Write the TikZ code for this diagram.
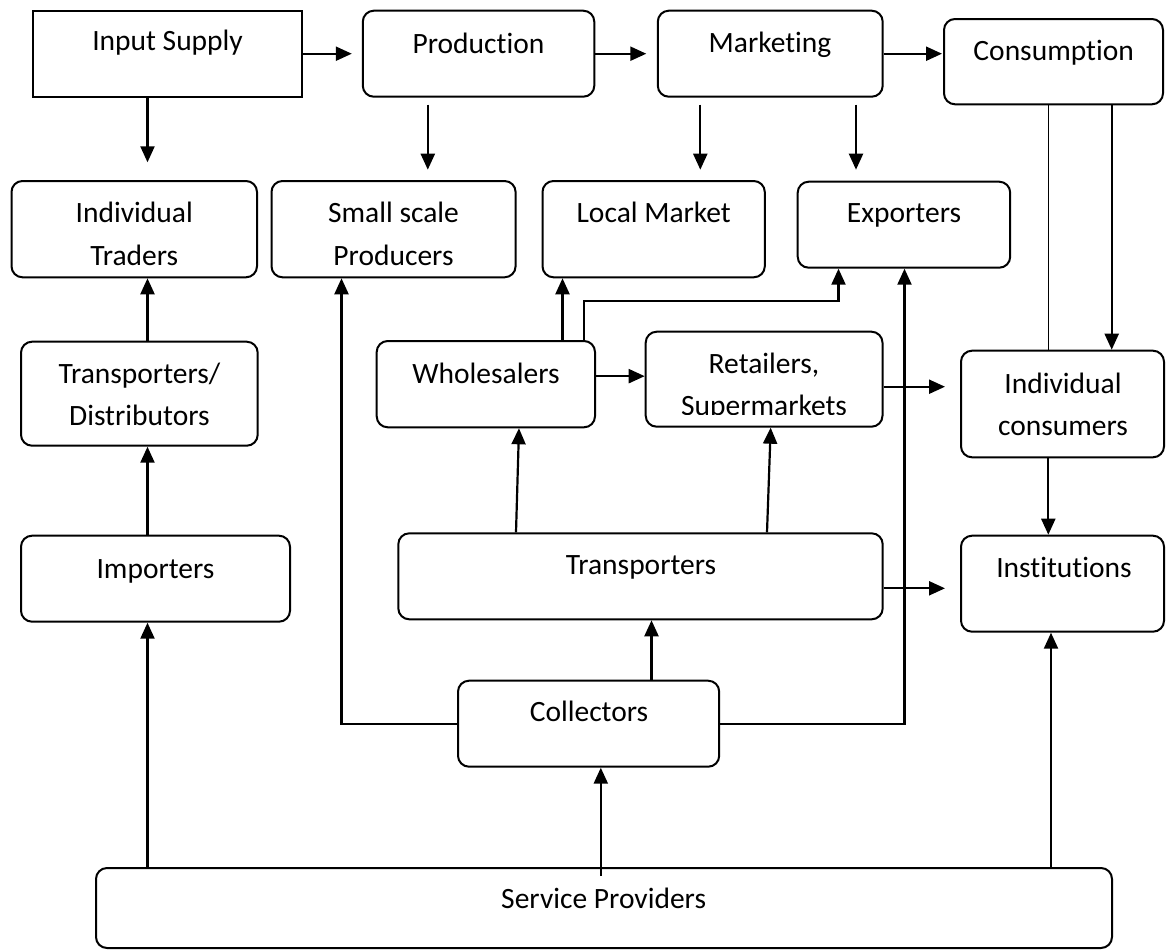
\documentclass[tikz,border=0pt]{standalone}
\usepackage{fontspec}
\setmainfont{Carlito}[Ligatures=NoCommon]
\usetikzlibrary{arrows.meta,fit}
\begin{document}
\begin{tikzpicture}[x=1pt,y=-1pt,
  box/.style={draw, line width=2pt, rounded corners=11pt, inner sep=0pt},
  sqbox/.style={draw, line width=2pt, sharp corners, inner sep=0pt},
  lbl/.style={anchor=base, inner sep=0pt, font=\fontsize{29.5}{35}\selectfont},
  arr/.style={line width=2.2pt, -{Triangle[length=16pt,width=14pt]}},
  ln/.style={line width=1.6pt}]
\useasboundingbox (0,0) rectangle (1166,951);

% boxes
\node[sqbox, fit={(32.9,10.7) (302.3,96.7)}] (inp) {};
\node[box, fit={(362.8,10.7) (594.3,96.7)}] (prod) {};
\node[box, fit={(657.8,10.7) (882.7,96.7)}] (mkt) {};
\node[box, fit={(944,19) (1163,104.3)}] (cons) {};
\node[box, fit={(11.5,181) (257,277.3)}] (trad) {};
\node[box, fit={(271.5,181) (515.6,277.3)}] (small) {};
\node[box, fit={(542.5,181) (764.8,277.3)}] (local) {};
\node[box, fit={(797.7,181.7) (1010.2,267.7)}] (exp) {};
\node[box, fit={(21,341.7) (257.7,445.7)}] (td) {};
\node[box, fit={(376.7,341) (595,427.3)}] (whole) {};
\node[box, fit={(645.7,331.7) (882.5,426.7)}] (ret) {};
\node[box, fit={(961,350.7) (1164,457.3)}] (ic) {};
\node[box, fit={(21,535.7) (290,621.7)}] (imp) {};
\node[box, fit={(398.3,533.3) (882.7,619.3)}] (trans) {};
\node[box, fit={(961,535.7) (1164,631.7)}] (inst) {};
\node[box, fit={(458,680.7) (719.2,766.7)}] (coll) {};
\node[box, fit={(96,868) (1112,948)}] (sp) {};

% labels
\node[lbl] (t-inp) at (167.6,50.5) {Input Supply};
\node[lbl] (t-prod) at (478.5,53) {Production};
\node[lbl] (t-mkt) at (770,52.3) {Marketing};
\node[lbl] (t-cons) at (1053.7,60) {Consumption};
\node[lbl] (t-trad1) at (134.3,222.7) {Individual};
\node[lbl] (t-trad2) at (134.3,265) {Traders};
\node[lbl] (t-small1) at (393.5,222.7) {Small scale};
\node[lbl] (t-small2) at (393.5,265) {Producers};
\node[lbl] (t-local) at (653.7,222.7) {Local Market};
\node[lbl] (t-exp) at (904,222.5) {Exporters};
\node[lbl] (t-td1) at (139.4,383.3) {Transporters/};
\node[lbl] (t-td2) at (139.4,425) {Distributors};
\node[lbl] (t-whole) at (486,383.3) {Wholesalers};
\begin{scope}
\clip (640,330) rectangle (890,414);
\node[lbl] (t-ret1) at (764,373.3) {Retailers,};
\node[lbl] (t-ret2) at (764,415.3) {Supermarkets};
\end{scope}
\node[lbl] (t-ic1) at (1063,393.3) {Individual};
\node[lbl] (t-ic2) at (1063,435) {consumers};
\node[lbl] (t-imp) at (155.5,578) {Importers};
\node[lbl] (t-trans) at (641,574.3) {Transporters};
\node[lbl] (t-inst) at (1064,577.3) {Institutions};
\node[lbl] (t-coll) at (589,721.7) {Collectors};
\node[lbl] (t-sp) at (603.6,908.3) {Service Providers};

% columns for connectors
\coordinate (x147) at (147.5,0);
\coordinate (x427) at (427.8,0);
\coordinate (x700) at (700.3,0);
\coordinate (x856) at (856,0);
\coordinate (x341) at (341.5,0);
\coordinate (x562) at (562.5,0);
\coordinate (x584) at (583.8,0);
\coordinate (bend) at (838.5,300.7);
\coordinate (x904) at (904.5,0);
\coordinate (x516) at (516,0);
\coordinate (x519) at (519,0);
\coordinate (x767) at (767,0);
\coordinate (x771) at (770.7,0);
\coordinate (x601) at (600.8,0);
\coordinate (x651) at (651.5,0);
\coordinate (x1048) at (1048.3,0);
\coordinate (x1112) at (1111.7,0);
\coordinate (x1051) at (1051,0);

% top row
\draw[arr, shorten >=10pt] (inp.east) -- (prod.west);
\draw[arr, shorten >=10.5pt] (prod.east) -- (mkt.west);
\draw[arr, shorten >=1pt] (mkt.east) -- (mkt.east -| cons.west);
% downward from top row
\draw[arr, shorten >=17.7pt] (x147 |- inp.south) -- (x147 |- trad.north);
\draw[arr, shorten <=7pt, shorten >=10.3pt] (x427 |- prod.south) -- (x427 |- small.north);
\draw[arr, shorten <=7pt, shorten >=10.3pt] (x700 |- mkt.south) -- (x700 |- local.north);
\draw[arr, shorten <=7pt, shorten >=11pt] (x856 |- mkt.south) -- (x856 |- exp.north);
% left column
\draw[arr] (x147 |- td.north) -- (x147 |- trad.south);
\draw[arr] (x147 |- imp.north) -- (x147 |- td.south);
\draw[arr] (x147 |- sp.north) -- (x147 |- imp.south);
% collectors
\draw[arr, shorten <=-9pt] (x601 |- sp.north) -- (x601 |- coll.south);
\draw[arr] (x651 |- coll.north) -- (x651 |- trans.south);
\draw[arr] (coll.west) -| (x341 |- small.south);
\draw[arr] (coll.east) -| (x904 |- exp.south);
% right column
\draw[arr] (x1051 |- sp.north) -- (x1051 |- inst.south);
\draw[arr] (x1112 |- cons.south) -- (x1112 |- ic.north);
\draw[ln] (x1048 |- cons.south) -- (x1048 |- ic.north);
\draw[arr] (x1048 |- ic.south) -- (x1048 |- inst.north);
% middle
\draw[arr] (x516 |- trans.north) -- (x519 |- whole.south);
\draw[arr] (x767 |- trans.north) -- (x771 |- ret.south);
\draw[arr] (x562 |- whole.north) -- (x562 |- local.south);
\draw[arr] (x584 |- whole.north) |- (bend) -- (bend |- exp.south);
\draw[arr] ([yshift=8pt]whole.east) -- ([yshift=8pt]whole.east -| ret.west);
\draw[arr, shorten >=15pt] ([yshift=-7.5pt]ret.east) -- ([yshift=-7.5pt]ret.east -| ic.west);
\draw[arr, shorten >=15pt] ([yshift=-12pt]trans.east) -- ([yshift=-12pt]trans.east -| inst.west);
\end{tikzpicture}
\end{document}
